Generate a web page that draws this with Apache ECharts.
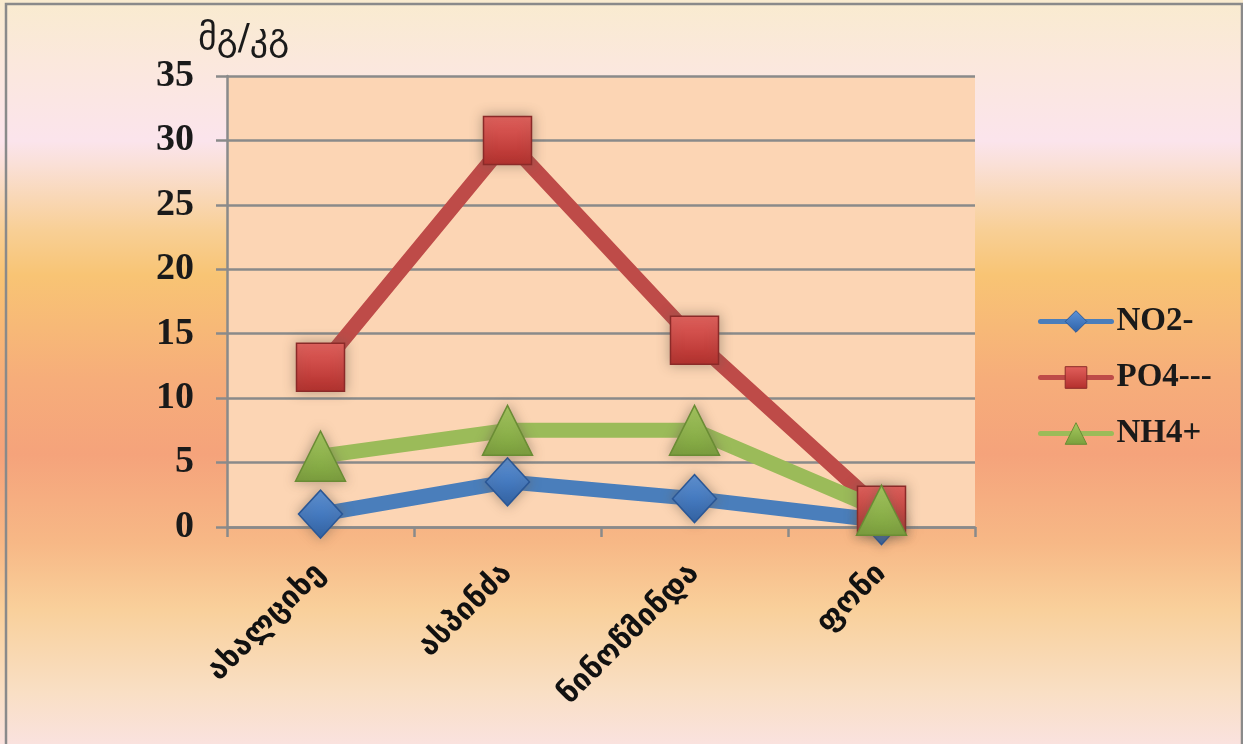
<!DOCTYPE html>
<html>
<head>
<meta charset="utf-8">
<script src="https://cdn.jsdelivr.net/npm/echarts@6/dist/echarts.min.js"></script>
<style>
html,body{margin:0;padding:0;}
#chart{width:1243px;height:744px;
background:linear-gradient(to bottom,#f9ebcf 0%,#fbe8dc 8%,#fbe4ec 19%,#fae0d8 22%,#f8cf95 31%,#f8c474 37%,#f6ad7a 51%,#f5a37b 61%,#f7b886 73%,#f9d09b 82%,#f9dfc4 93%,#fae2de 100%);}
</style>
</head>
<body>
<div id="chart"></div>
<script>
const categories = ['ახალციხე', 'ასპინძა', 'ნინოწმინდა', 'ფონი'];
const seriesNames = ['NO2-', 'PO4---', 'NH4+'];
const no2 = [1.0, 3.5, 2.2, 0.5];
const po4 = [12.4, 30.0, 14.5, 1.3];
const nh4 = [5.5, 7.5, 7.5, 1.3];
const yTicks = [0, 5, 10, 15, 20, 25, 30, 35];
const unitLabel = 'მგ/კგ';

const chart = echarts.init(document.getElementById('chart'), null, {renderer: 'canvas'});

function grad(top, bottom) {
  return {type: 'linear', x: 0, y: 0, x2: 0, y2: 1, colorStops: [{offset: 0, color: top}, {offset: 1, color: bottom}]};
}
const halo = {shadowBlur: 12, shadowColor: 'rgba(110,95,80,0.5)'};

function mkSeries(name, data, color, symbol, size, fillTop, fillBottom, border) {
  return {
    name: name, type: 'line', data: data,
    symbol: symbol, symbolSize: size,
    lineStyle: {color: color, width: 15, cap: 'round', join: 'round'},
    itemStyle: Object.assign({color: grad(fillTop, fillBottom), borderColor: border, borderWidth: 1.5}, halo),
    emphasis: {disabled: true},
    animation: false
  };
}

chart.setOption({
  backgroundColor: 'transparent',
  animation: false,
  grid: {left: 227, right: 268, top: 76, bottom: 217, show: true, backgroundColor: '#fcd5b4', borderWidth: 0},
  graphic: [
    {type: 'rect', shape: {x: 6, y: 4, width: 1236, height: 760}, style: {fill: 'none', stroke: '#8a8a8a', lineWidth: 2.5}, silent: true},
    {type: 'text', left: 198, top: 22, style: {text: unitLabel, font: '36px "DejaVu Sans"', fill: '#1a1a1a'}}
  ],
  legend: {
    orient: 'vertical', left: 1033, top: 300,
    itemWidth: 71, itemHeight: 27, itemGap: 23,
    data: seriesNames,
    lineStyle: {width: 5},
    itemStyle: {shadowBlur: 0, borderWidth: 1},
    textStyle: {fontFamily: 'Liberation Serif', fontWeight: 'bold', fontSize: 33, color: '#1a1a1a'},
    selectedMode: false
  },
  xAxis: {
    type: 'category', data: categories, boundaryGap: true,
    axisLine: {lineStyle: {color: '#8a8a8a', width: 2.5}},
    axisTick: {show: true, alignWithLabel: false, length: 10, lineStyle: {color: '#8a8a8a', width: 2.5}},
    axisLabel: {rotate: 45, margin: 42, fontFamily: 'DejaVu Sans', fontWeight: 'bold', fontSize: 30, color: '#111'}
  },
  yAxis: {
    type: 'value', min: 0, max: 35, interval: 5,
    axisLine: {show: true, lineStyle: {color: '#8a8a8a', width: 2.5}},
    axisTick: {show: true, length: 11, lineStyle: {color: '#8a8a8a', width: 2.5}},
    splitLine: {lineStyle: {color: '#8a8a8a', width: 2.5}},
    axisLabel: {margin: 33, fontFamily: 'Liberation Serif', fontWeight: 'bold', fontSize: 38, color: '#1a1a1a',
      formatter: function (v) { return yTicks.indexOf(v) >= 0 ? String(v) : ''; }}
  },
  series: [
    mkSeries(seriesNames[0], no2, '#4a7ebb', 'diamond', [44, 48], '#5d93d8', '#2e62a8', '#2a5796'),
    mkSeries(seriesNames[1], po4, '#be4b48', 'rect', 48, '#e2605c', '#b32f2c', '#8b2a28'),
    mkSeries(seriesNames[2], nh4, '#9bbb59', 'triangle', [50, 50], '#a6cb5f', '#7a9f3c', '#6a8c34')
  ]
});
</script>
</body>
</html>
